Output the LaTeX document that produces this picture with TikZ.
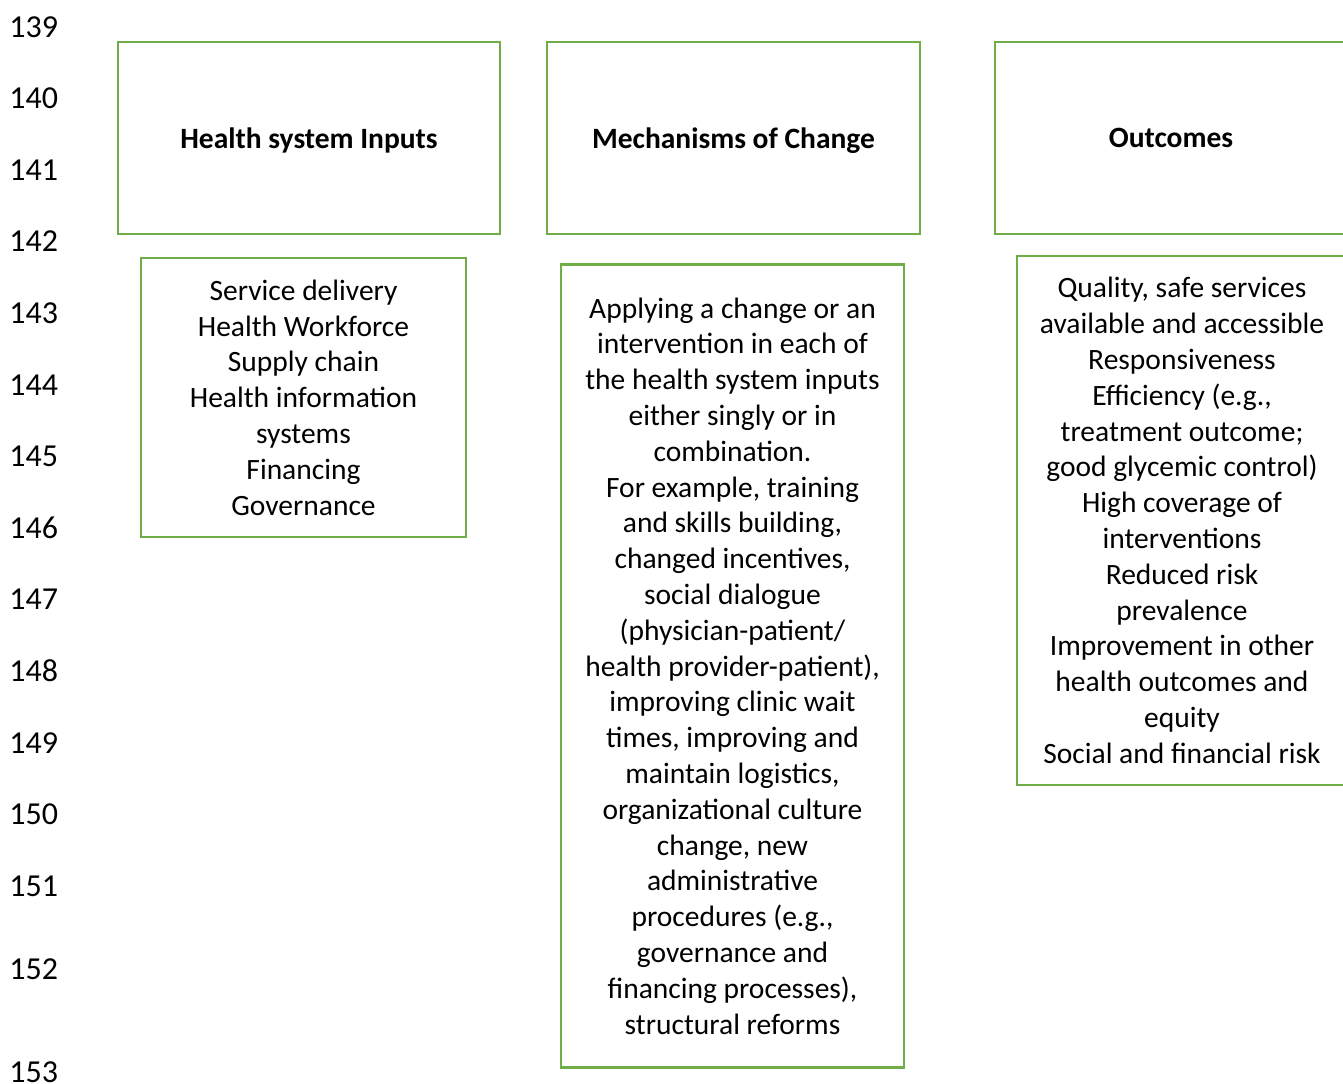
\documentclass[tikz,border=0pt]{standalone}
\usepackage{fontspec}
\setmainfont{Carlito}
\definecolor{boxgreen}{HTML}{70AD47}
\tikzset{
    txt/.style={font=\fontsize{14.75}{17.9}\selectfont},
    headbox/.style={draw=boxgreen, line width=1.2pt, inner sep=0pt, align=center, text depth=0pt,
        font=\fontsize{14.75}{17.9}\selectfont\bfseries},
    bodybox/.style={draw=boxgreen, line width=1.2pt, inner sep=0pt, align=center, txt},
    lineno/.style={anchor=west, inner sep=0pt, font=\fontsize{16}{19}\selectfont}
}
\begin{document}
\begin{tikzpicture}[x=0.5pt, y=-0.5pt]
    \useasboundingbox (0,0) rectangle (1343,1083);
    \clip (0,0) rectangle (1343,1083);

    % line numbers
    \foreach \n/\y in {139/27, 140/98, 141/170, 142/241, 143/313, 144/385, 145/456,
                       146/528, 147/599, 148/671, 149/743, 150/814, 151/886, 152/969, 153/1072}
        \node[lineno] (ln\n) at (9,\y) {\n};

    % headers
    \node[headbox, minimum width=191pt, minimum height=96pt] (inputs) at (309,138) {Health system Inputs};
    \node[headbox, minimum width=186.5pt, minimum height=96pt] (mechanisms) at (733.5,138) {Mechanisms of Change};
    \node[headbox, minimum width=176pt, minimum height=96pt] (outcomes) at (1171,138) {Outcomes};

    % contents
    \node[bodybox, minimum width=162.5pt, minimum height=139.5pt] (inputlist) at (303.5,397.5)
        {Service delivery\\Health Workforce\\Supply chain\\Health information\\systems\\Financing\\Governance};

    \node[bodybox, minimum width=171.5pt, minimum height=401.5pt] (changelist) at (732.5,666)
        {Applying a change or an\\intervention in each of\\the health system inputs\\either singly or in\\combination.\\
         For example, training\\and skills building,\\changed incentives,\\social dialogue\\(physician-patient/\\
         health provider-patient),\\improving clinic wait\\times, improving and\\maintain logistics,\\
         organizational culture\\change, new\\administrative\\procedures (e.g.,\\governance and\\
         financing processes),\\structural reforms};

    \node[bodybox, minimum width=165pt, minimum height=264.5pt] (outcomelist) at (1182,520.5)
        {Quality, safe services\\available and accessible\\Responsiveness\\Efficiency (e.g.,\\treatment outcome;\\
         good glycemic control)\\High coverage of\\interventions\\Reduced risk\\prevalence\\
         Improvement in other\\health outcomes and\\equity\\Social and financial risk};
\end{tikzpicture}
\end{document}
